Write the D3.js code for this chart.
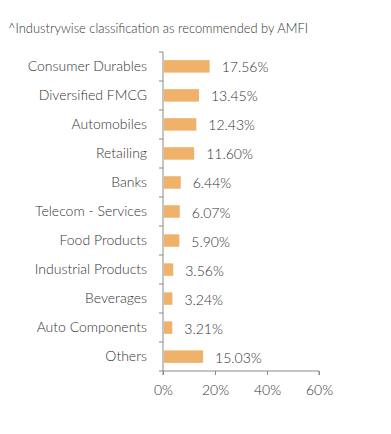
<!DOCTYPE html>
<html><head><meta charset="utf-8">
<script src="https://cdn.jsdelivr.net/npm/d3@7"></script>
<style>
html,body{margin:0;padding:0;background:#fff;}
text{font-family:Lato,"Open Sans",sans-serif;fill:#333;}
</style></head>
<body>
<svg id="chart" width="391" height="434"></svg>
<script>
const title = "^Industrywise classification as recommended by AMFI";
const categories = ["Consumer Durables","Diversified FMCG","Automobiles","Retailing","Banks","Telecom - Services","Food Products","Industrial Products","Beverages","Auto Components","Others"];
const values = [17.56,13.45,12.43,11.60,6.44,6.07,5.90,3.56,3.24,3.21,15.03];
const xTicks = [0,20,40,60];

const svg = d3.select("#chart");
svg.append("text").attr("x",8).attr("y",33).attr("font-size",12.9).attr("font-weight",300).attr("fill","#222").text(title);

const x = d3.scaleLinear().domain([0,60]).range([163,319]);
const y = d3.scaleBand().domain(categories).range([52,371]).paddingInner(0.57).paddingOuter(0.28);

const yAxis = d3.axisLeft(y).tickSize(0).tickPadding(16);
const gy = svg.append("g").attr("transform","translate(163,0)").call(yAxis);
gy.select(".domain").attr("stroke","#8a8a8a").attr("d","M0,52V371");
gy.selectAll("text").attr("font-size",14).attr("font-weight",300).attr("fill","#222").attr("font-family","Lato");
const bounds = d3.range(categories.length+1).map(i=>52+i*(319/categories.length));
svg.append("g").selectAll("line").data(bounds).join("line")
  .attr("x1",159).attr("x2",163).attr("y1",d=>d).attr("y2",d=>d).attr("stroke","#8a8a8a");

const xAxis = d3.axisBottom(x).tickValues(xTicks).tickFormat(d=>d+"%").tickSize(4).tickPadding(10);
const gx = svg.append("g").attr("transform","translate(0,371)").call(xAxis);
gx.select(".domain").attr("stroke","#8a8a8a").attr("d","M163,4V0H319V4");
gx.selectAll(".tick line").attr("stroke","#8a8a8a");
gx.selectAll("text").attr("font-size",14).attr("font-weight",300).attr("fill","#222").attr("font-family","Lato");

svg.append("g").selectAll("rect").data(values).join("rect")
  .attr("x",x(0)+1).attr("y",(d,i)=>y(categories[i]))
  .attr("width",d=>x(d)-x(0)).attr("height",y.bandwidth()).attr("fill","#F0B26A");

svg.append("g").selectAll("text").data(values).join("text")
  .attr("x",d=>x(d)+13).attr("y",(d,i)=>y(categories[i])+y.bandwidth()/2+6)
  .attr("font-size",14).attr("font-weight",300).attr("fill","#222").text(d=>d.toFixed(2)+"%");
</script>
</body></html>
